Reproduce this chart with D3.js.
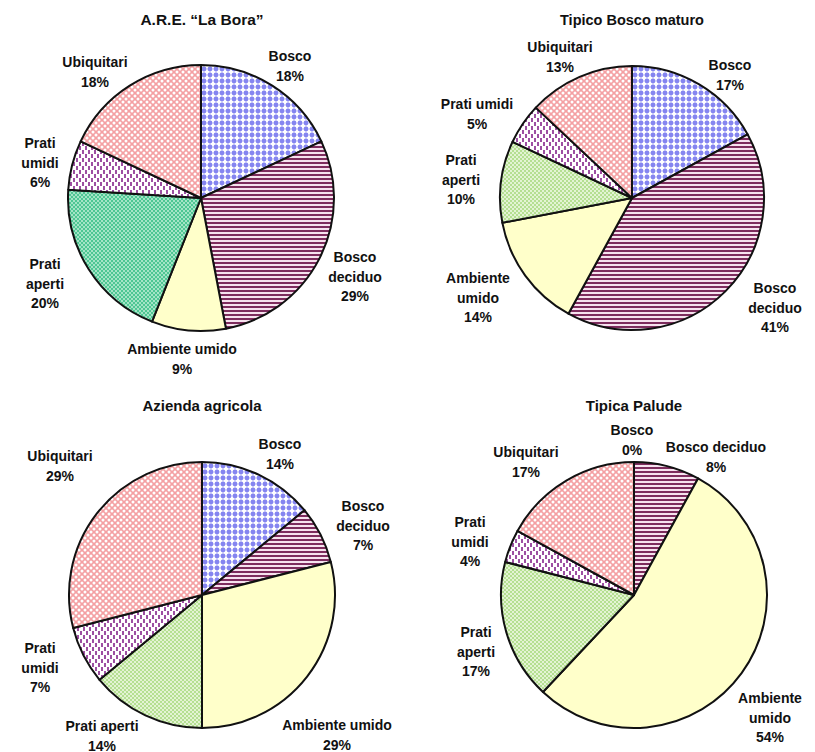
<!DOCTYPE html>
<html>
<head>
<meta charset="utf-8">
<script src="https://cdn.jsdelivr.net/npm/d3@7"></script>
<style>
  html, body { margin: 0; padding: 0; background: #fff; }
  svg text { font-family: "Liberation Sans", Arial, sans-serif; font-weight: bold; fill: #111; }
</style>
</head>
<body>
<svg id="chart" width="815" height="752"></svg>
<script>
// Habitat categories, in clockwise order from 12 o'clock
const categories = ["Bosco", "Bosco deciduo", "Ambiente umido", "Prati aperti", "Prati umidi", "Ubiquitari"];

// Site titles
const titles = ["A.R.E. \u201CLa Bora\u201D", "Tipico Bosco maturo", "Azienda agricola", "Tipica Palude"];

// Percent share per category for each site
const valuesLaBora   = [18, 29, 9, 20, 6, 18];
const valuesBosco    = [17, 41, 14, 10, 5, 13];
const valuesAzienda  = [14, 7, 29, 14, 7, 29];
const valuesPalude   = [0, 8, 54, 17, 4, 17];

const seriesValues = [valuesLaBora, valuesBosco, valuesAzienda, valuesPalude];

// Layout: pie centres, title positions and label anchors ("split" puts each word on its own line)
const layout = [
  { cx: 201, cy: 198, r: 133, title: [202, 25], titleSize: 15.5, green: "teal",
    labels: [
      { x: 290, y: 61, lines: "one" },
      { x: 355, y: 262, lines: "split" },
      { x: 182, y: 354, lines: "one" },
      { x: 45, y: 269, lines: "split" },
      { x: 40, y: 148, lines: "split" },
      { x: 95, y: 67, lines: "one" }
    ] },
  { cx: 632, cy: 198, r: 132, title: [632, 25], titleSize: 14.5, green: "light",
    labels: [
      { x: 730, y: 70, lines: "one" },
      { x: 775, y: 293, lines: "split" },
      { x: 478, y: 283, lines: "split" },
      { x: 461, y: 165, lines: "split" },
      { x: 477, y: 109, lines: "one" },
      { x: 560, y: 52, lines: "one" }
    ] },
  { cx: 202, cy: 595, r: 133, title: [202, 411], titleSize: 15, green: "light",
    labels: [
      { x: 280, y: 449, lines: "one" },
      { x: 363, y: 511, lines: "split" },
      { x: 337, y: 730, lines: "one" },
      { x: 102, y: 731, lines: "one" },
      { x: 40, y: 653, lines: "split" },
      { x: 60, y: 461, lines: "one" }
    ] },
  { cx: 634, cy: 595, r: 133, title: [634, 411], titleSize: 15, green: "light",
    labels: [
      { x: 632, y: 435, lines: "one" },
      { x: 716, y: 452, lines: "one" },
      { x: 770, y: 703, lines: "split" },
      { x: 476, y: 637, lines: "split" },
      { x: 470, y: 527, lines: "split" },
      { x: 526, y: 457, lines: "one" }
    ] }
];

const svg = d3.select("#chart");
const defs = svg.append("defs");

// ---- fill patterns ----
function pattern(id, w, h, draw) {
  const p = defs.append("pattern").attr("id", id)
    .attr("patternUnits", "userSpaceOnUse").attr("width", w).attr("height", h);
  draw(p);
}
// Bosco: blue dot grid
pattern("p-bosco", 6, 6, p => {
  p.append("rect").attr("width", 6).attr("height", 6).attr("fill", "#fff");
  p.append("rect").attr("x", 0).attr("y", 2.5).attr("width", 6).attr("height", 1).attr("fill", "#d4d4fa");
  p.append("rect").attr("x", 2.5).attr("y", 0).attr("width", 1).attr("height", 6).attr("fill", "#d4d4fa");
  p.append("circle").attr("cx", 3).attr("cy", 3).attr("r", 2.4).attr("fill", "#8585f0");
});
// Bosco deciduo: horizontal maroon stripes
pattern("p-deciduo", 4, 4, p => {
  p.append("rect").attr("width", 4).attr("height", 4).attr("fill", "#f6e2ee");
  p.append("rect").attr("y", 0).attr("width", 4).attr("height", 2).attr("fill", "#7d2c5d");
});
// Ambiente umido: plain pale yellow
const yellow = "#ffffca";
// Prati aperti: fine checkers
pattern("p-prati-teal", 4, 4, p => {
  p.append("rect").attr("width", 4).attr("height", 4).attr("fill", "#a4e4c6");
  p.append("rect").attr("x", 0).attr("y", 0).attr("width", 2).attr("height", 2).attr("fill", "#4ec693");
  p.append("rect").attr("x", 2).attr("y", 2).attr("width", 2).attr("height", 2).attr("fill", "#4ec693");
});
pattern("p-prati-light", 4, 4, p => {
  p.append("rect").attr("width", 4).attr("height", 4).attr("fill", "#e3f4d3");
  p.append("rect").attr("x", 0).attr("y", 0).attr("width", 2).attr("height", 2).attr("fill", "#b5df92");
  p.append("rect").attr("x", 2).attr("y", 2).attr("width", 2).attr("height", 2).attr("fill", "#b5df92");
});
// Prati umidi: staggered purple dashes
pattern("p-umidi", 6, 8, p => {
  p.append("rect").attr("width", 6).attr("height", 8).attr("fill", "#fff");
  p.append("rect").attr("x", 1).attr("y", 0).attr("width", 2).attr("height", 4).attr("fill", "#9d4fa2");
  p.append("rect").attr("x", 4).attr("y", 4).attr("width", 2).attr("height", 4).attr("fill", "#9d4fa2");
});
// Ubiquitari: pink diagonal lattice
pattern("p-ubiq", 6, 6, p => {
  p.append("rect").attr("width", 6).attr("height", 6).attr("fill", "#f4a0a3");
  [[0, 0], [6, 0], [0, 6], [6, 6], [3, 3]].forEach(([x, y]) =>
    p.append("circle").attr("cx", x).attr("cy", y).attr("r", 1.5).attr("fill", "#fff"));
});

function fillFor(i, green) {
  return [
    "url(#p-bosco)",
    "url(#p-deciduo)",
    yellow,
    green === "teal" ? "url(#p-prati-teal)" : "url(#p-prati-light)",
    "url(#p-umidi)",
    "url(#p-ubiq)"
  ][i];
}

const pie = d3.pie().sort(null).value(d => d.value);
const lineH = 19.5;

seriesValues.forEach((vals, k) => {
  const L = layout[k];
  const data = categories.map((c, i) => ({ cat: c, value: vals[i], idx: i }));
  const arc = d3.arc().innerRadius(0).outerRadius(L.r);
  const g = svg.append("g").attr("transform", `translate(${L.cx},${L.cy})`);

  g.selectAll("path").data(pie(data)).join("path")
    .attr("d", arc)
    .attr("fill", d => fillFor(d.data.idx, L.green))
    .attr("stroke", "#111")
    .attr("stroke-width", 2)
    .attr("stroke-linejoin", "round");

  svg.append("text")
    .attr("x", L.title[0]).attr("y", L.title[1])
    .attr("text-anchor", "middle")
    .attr("font-size", L.titleSize)
    .text(titles[k]);

  data.forEach((d, i) => {
    const lab = L.labels[i];
    const nameLines = lab.lines === "split" ? d.cat.split(" ") : [d.cat];
    const lines = nameLines.concat([d.value + "%"]);
    const t = svg.append("text")
      .attr("text-anchor", "middle")
      .attr("font-size", 14);
    lines.forEach((s, j) => {
      t.append("tspan").attr("x", lab.x).attr("y", lab.y + j * lineH).text(s);
    });
  });
});
</script>
</body>
</html>
